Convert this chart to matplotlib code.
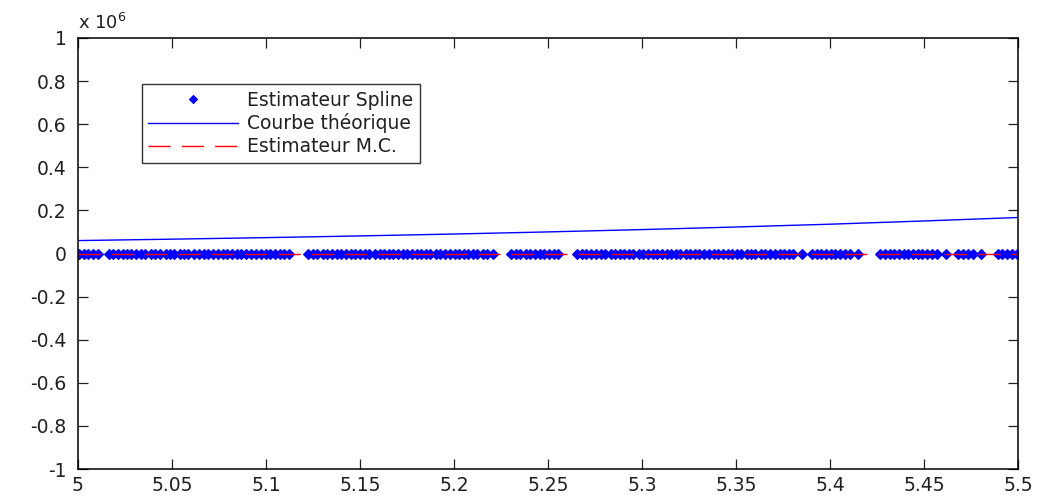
import numpy as np
import matplotlib.pyplot as plt
from matplotlib.ticker import FixedLocator, FuncFormatter

plt.rcParams['font.family'] = ['DejaVu Sans']

# values on the y axis are in units of 1e6
x_theo = [5.00, 5.05, 5.10, 5.15, 5.20, 5.25, 5.30, 5.35, 5.40, 5.45, 5.50]
y_theo = [0.060, 0.0665, 0.0737, 0.0816, 0.0904, 0.1002, 0.111, 0.123, 0.136, 0.151, 0.167]

# abscissae of the spline estimator points (all close to zero)
x_spline = [5.0005, 5.0032, 5.0054, 5.0081, 5.0106,
            5.0166, 5.0188, 5.0212, 5.0237, 5.0259, 5.0283, 5.0309, 5.0336, 5.0358,
            5.0391, 5.0412, 5.0438, 5.0466, 5.0489, 5.0513, 5.0541, 5.0566, 5.0588,
            5.0617, 5.0642, 5.0668, 5.0691, 5.0718, 5.0746, 5.0771, 5.0793, 5.0822,
            5.0847, 5.0868, 5.0896, 5.0921, 5.0946, 5.0972, 5.0998, 5.1019, 5.1047,
            5.1073, 5.1096, 5.1121,
            5.1226, 5.1252, 5.1274, 5.1303, 5.1327, 5.1351, 5.1378, 5.1399, 5.1428,
            5.1452, 5.1473, 5.1502, 5.1527, 5.1549, 5.1578, 5.1604, 5.1626, 5.1652,
            5.1677, 5.1701, 5.1729, 5.1748, 5.1776, 5.1804, 5.1826, 5.1851, 5.1873,
            5.1902, 5.1927, 5.1951, 5.1978, 5.2003, 5.2026, 5.2052, 5.2077, 5.2101,
            5.2124, 5.2153, 5.2176, 5.2206,
            5.2306, 5.2331, 5.2353, 5.2382, 5.2404, 5.2431, 5.2457, 5.2479, 5.2508,
            5.2531, 5.2556,
            5.2656, 5.2683, 5.2704, 5.2731, 5.2758, 5.2782, 5.2806, 5.2833, 5.2855,
            5.2881, 5.2907, 5.2932, 5.2954, 5.2983, 5.3008, 5.3031, 5.3057, 5.3079,
            5.3106, 5.3132, 5.3157, 5.3181, 5.3204, 5.3233, 5.3256, 5.3282, 5.3304,
            5.3331, 5.3357, 5.3382, 5.3406, 5.3429, 5.3456, 5.3481, 5.3507, 5.3528,
            5.3557, 5.3582, 5.3603, 5.3631, 5.3656, 5.3679, 5.3706, 5.3732, 5.3753,
            5.3781, 5.3806, 5.3852,
            5.3906, 5.3929, 5.3953, 5.3981, 5.4004, 5.4029, 5.4056, 5.4078, 5.4104,
            5.4148,
            5.4266, 5.4292, 5.4318, 5.4341, 5.4367, 5.4392, 5.4414, 5.4443, 5.4466,
            5.4491, 5.4517, 5.4541, 5.4568, 5.4619,
            5.4681, 5.4706, 5.4734, 5.4759, 5.4803,
            5.4892, 5.4917, 5.4941, 5.4968, 5.4996]
y_spline = np.zeros(len(x_spline))

# Monte Carlo estimator, also close to zero
x_mc = [5.0, 5.1, 5.2, 5.3, 5.4, 5.5]
y_mc = [0.0, 0.0, 0.0, 0.0, 0.0, 0.0]

fig = plt.figure(figsize=(10.38, 4.98), dpi=100)
ax = fig.add_axes([0.0751, 0.0582, 0.9056, 0.8655])

ax.plot(x_spline, y_spline, linestyle='none', marker='D', markersize=5.5,
        color='#0000ff', markeredgewidth=0.8, label='Estimateur Spline')
ax.plot(x_theo, y_theo, color='#0000ff', linewidth=1.0, label='Courbe théorique')
ax.plot(x_mc, y_mc, color='#ff0000', linestyle=(0, (16, 8)), linewidth=1.0,
        label='Estimateur M.C.')

ax.set_xlim(5.0, 5.5)
ax.set_ylim(-1, 1)
ax.xaxis.set_major_locator(FixedLocator(np.arange(5.0, 5.501, 0.05)))
ax.yaxis.set_major_locator(FixedLocator(np.arange(-1.0, 1.001, 0.2)))
ax.xaxis.set_major_formatter(FuncFormatter(lambda v, p: f'{v:.2f}'.rstrip('0').rstrip('.')))
ax.yaxis.set_major_formatter(FuncFormatter(
    lambda v, p: '0' if abs(v) < 1e-9 else f'{v:.1f}'.rstrip('0').rstrip('.')))

ax.tick_params(axis='both', direction='in', length=7, width=0.9, top=True, right=True,
               labelsize=13.5, colors='#202020')
ax.tick_params(axis='y', pad=8)
ax.tick_params(axis='x', pad=5)
for s in ax.spines.values():
    s.set_linewidth(1.1)

ax.text(0.0, 1.012, r'x 10$^6$', transform=ax.transAxes, fontsize=13,
        ha='left', va='bottom', color='#202020')

leg = ax.legend(loc='upper left', bbox_to_anchor=(0.068, 0.893), fontsize=13.5,
                frameon=True, fancybox=False, edgecolor='black', borderpad=0.35,
                handlelength=4.8, handletextpad=0.45, labelspacing=0.2,
                borderaxespad=0, markerscale=0.8)
leg.get_frame().set_linewidth(1.0)
for t in leg.get_texts():
    t.set_color('#202020')

fig.savefig('out.png', dpi=100)
